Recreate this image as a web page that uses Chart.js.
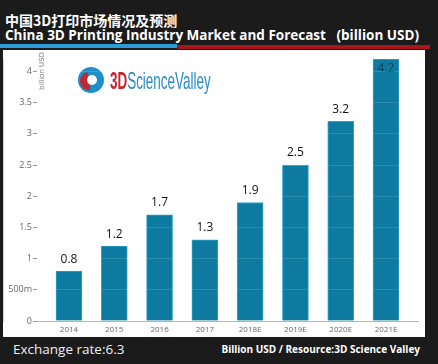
<!DOCTYPE html>
<html>
<head>
<meta charset="utf-8">
<script src="https://cdn.jsdelivr.net/npm/chart.js@4.4.1/dist/chart.umd.min.js"></script>
<style>
  html, body { margin: 0; padding: 0; }
  body { width: 438px; height: 364px; background: #1b1b1b; position: relative; overflow: hidden; font-family: "Open Sans", sans-serif; }
  #titleCn { position: absolute; left: 5px; top: 10px; color: #fff; font: bold 14px "Noto Sans CJK SC", sans-serif; }
  #titleEn { position: absolute; left: 5px; top: 26px; color: #fff; font: bold 13.5px "Open Sans", sans-serif; white-space: pre; }
  #stripeBlue { position: absolute; left: 0; top: 44px; width: 177px; height: 4px; background: #2d9bd6; }
  #stripeRed { position: absolute; left: 177px; top: 45px; width: 253px; height: 4px; background: #a8161a; }
  #panel { position: absolute; left: 3px; top: 50px; width: 422px; height: 287px; background: #fff; }
  #noteLeft { position: absolute; left: 13px; top: 340px; color: #eee; font: 13.5px "Open Sans", sans-serif; }
  #noteRight { position: absolute; right: 18px; top: 342px; color: #fff; font: bold 10px "Open Sans", sans-serif; }
</style>
</head>
<body>
<div id="titleCn">中国3D打印市场情况及预测</div>
<div id="titleEn">China 3D Printing Industry Market and Forecast   (billion USD)</div>
<div id="stripeBlue"></div>
<div id="stripeRed"></div>
<div id="panel"><canvas id="myChart" width="422" height="287"></canvas></div>
<div id="noteLeft">Exchange rate:6.3</div>
<div id="noteRight">Billion USD / Resource:3D Science Valley</div>
<script>
// datos
const years = ['2014', '2015', '2016', '2017', '2018E', '2019E', '2020E', '2021E'];
const marketValues = [0.8, 1.2, 1.7, 1.3, 1.9, 2.5, 3.2, 4.2];
const yTickValues = [0, 0.5, 1, 1.5, 2, 2.5, 3, 3.5, 4];
const yTickLabels = ['0', '500m', '1', '1.5', '2', '2.5', '3', '3.5', '4'];

// etiquetas encima de cada barra + titulo del eje + logo
const extras = {
  id: 'extras',
  beforeDatasetsDraw(chart) {
    const ctx = chart.ctx;
    const area = chart.chartArea;
    // logo 3DScienceValley
    const cx = 88, cy = 30;
    ctx.save();
    ctx.fillStyle = '#1f8fca';
    ctx.beginPath(); ctx.arc(cx, cy, 13, 0, Math.PI * 2); ctx.fill();
    ctx.fillStyle = '#c2262e';
    ctx.beginPath(); ctx.arc(cx - 2, cy + 1, 9, Math.PI * 0.45, Math.PI * 1.45); ctx.fill();
    ctx.fillStyle = '#fff';
    ctx.beginPath(); ctx.arc(cx + 1, cy, 5, 0, Math.PI * 2); ctx.fill();
    ctx.translate(107, 39);
    ctx.scale(0.56, 1);
    ctx.font = 'bold 24px "Liberation Sans", sans-serif';
    ctx.textBaseline = 'alphabetic';
    ctx.fillStyle = '#c2262e';
    ctx.fillText('3D', 0, 0);
    const w = ctx.measureText('3D').width;
    ctx.fillStyle = '#2a8cc6';
    ctx.font = '24px "Liberation Sans", sans-serif';
    ctx.fillText('ScienceValley', w, 0);
    ctx.restore();

    // titulo del eje y
    ctx.save();
    ctx.translate(area.left + 5, 2);
    ctx.rotate(-Math.PI / 2);
    ctx.font = '7px "DejaVu Sans", sans-serif';
    ctx.fillStyle = '#777';
    ctx.textAlign = 'right';
    ctx.textBaseline = 'middle';
    ctx.fillText('billion USD', 0, 0);
    ctx.restore();
  },
  afterDatasetsDraw(chart) {
    const ctx = chart.ctx;
    const area = chart.chartArea;
    ctx.save();
    ctx.font = '12px "Open Sans", sans-serif';
    ctx.textAlign = 'center';
    ctx.textBaseline = 'middle';
    chart.getDatasetMeta(0).data.forEach((bar, i) => {
      const txt = marketValues[i].toFixed(1);
      if (bar.y - area.top < 18) {
        ctx.fillStyle = '#173a52';
        ctx.fillText(txt, bar.x, bar.y + 10);
      } else {
        ctx.fillStyle = '#111';
        ctx.fillText(txt, bar.x, bar.y - 12);
      }
    });
    ctx.restore();
  }
};

window.onload = function() {
  Chart.defaults.font.family = '"Open Sans", sans-serif';
  let canva = document.getElementById('myChart').getContext('2d');
  let myChart = new Chart(canva, {
    type: 'bar',
    data: {
      datasets: [{
        label: 'Market',
        data: marketValues.map((v, i) => ({ x: i, y: v })),
        backgroundColor: '#0e7a9f',
        borderColor: '#2ea5cc',
        borderWidth: 1,
        barThickness: 26
      }]
    },
    plugins: [extras],
    options: {
      responsive: false,
      animation: false,
      devicePixelRatio: 1,
      layout: { padding: { top: 9, right: 7, left: 0, bottom: 0 } },
      plugins: { legend: { display: false }, tooltip: { enabled: false } },
      scales: {
        x: {
          type: 'linear',
          offset: false,
          min: -0.706,
          max: 7.706,
          afterBuildTicks: s => { s.ticks = years.map((_, i) => ({ value: i })); },
          afterFit: s => { s.height = 16; },
          grid: { display: false, drawTicks: false, tickLength: 0 },
          border: { color: '#aaa' },
          ticks: {
            autoSkip: false,
            maxRotation: 0,
            padding: 4,
            color: '#666',
            font: { size: 8 },
            callback: v => years[v]
          }
        },
        y: {
          min: 0,
          max: 4.2,
          afterBuildTicks: s => { s.ticks = yTickValues.map(v => ({ value: v })); },
          afterFit: s => { s.width = 34; },
          grid: { color: 'rgba(255,255,255,0.13)', z: 1, tickLength: 4, tickColor: '#999' },
          border: { color: '#aaa' },
          ticks: {
            padding: 1,
            color: '#666',
            font: { size: 9 },
            callback: v => yTickLabels[yTickValues.indexOf(v)]
          }
        }
      }
    }
  });
};
</script>
</body>
</html>
